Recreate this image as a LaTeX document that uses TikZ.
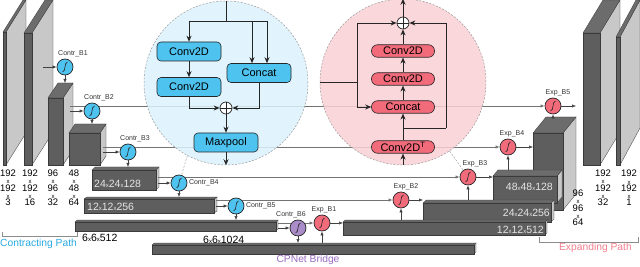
\documentclass[tikz,border=0pt]{standalone}
\usepackage{fontspec}
\setmainfont{Liberation Sans}
\usepackage{tikz}
\usetikzlibrary{positioning,arrows.meta}

\definecolor{slabfront}{HTML}{5E5E5E}
\definecolor{slabtop}{HTML}{6C6C6C}
\definecolor{slabside}{HTML}{C8C8C8}
\definecolor{slabedge}{HTML}{3A3A3A}
\definecolor{actblue}{HTML}{4EC3EF}
\definecolor{actred}{HTML}{F26B7B}
\definecolor{actpurple}{HTML}{A98CC8}
\definecolor{zoomblue}{HTML}{DCF1FB}
\definecolor{zoompink}{HTML}{F9D0D4}
\definecolor{pathblue}{HTML}{29A9E1}
\definecolor{pathpink}{HTML}{F27E8D}
\definecolor{bridgepurple}{HTML}{9A6CBF}

\pgfdeclarelayer{back}
\pgfdeclarelayer{wire}
\pgfsetlayers{back,wire,main}

\newcommand{\tinyx}{{\fontsize{6}{6}\selectfont x}}
% name, left, top, width, height, depth x, depth y
\newcommand{\cuboid}[7]{%
  \filldraw[sideface] (#2+#4,#3) -- ++(#6,-#7) -- ++(0,#5) -- ++(-#6,#7) -- cycle;
  \filldraw[topface] (#2,#3) -- ++(#6,-#7) -- ++(#4,0) -- ++(-#6,#7) -- cycle;
  \node[frontface, minimum width=#4, minimum height=#5, anchor=north west] (#1) at (#2,#3) {};
  \coordinate (#1b) at (#2+#6,#3-#7);
}

\begin{document}
\begin{tikzpicture}[
x=1pt, y=-1pt,
frontface/.style={fill=slabfront, draw=slabedge, line width=0.3pt, inner sep=0pt, outer sep=0pt},
sideface/.style={fill=slabside, draw=slabedge, line width=0.3pt},
topface/.style={fill=slabtop, draw=slabedge, line width=0.3pt},
act/.style={circle, draw=black!85, line width=0.7pt, minimum size=16, inner sep=0pt,
  path picture={\draw[line width=0.6pt] ([shift={(-2.5pt,-5pt)}]path picture bounding box.center)
    .. controls +(3.5pt,0pt) and +(-3.5pt,0pt) .. ([shift={(2.5pt,5pt)}]path picture bounding box.center);}},
actlbl/.style={font=\fontsize{7}{8}\selectfont, text=black!80, inner sep=0pt},
plus/.style={circle, draw=black!85, fill=white, line width=0.7pt, minimum size=12, inner sep=0pt,
  path picture={\draw[line width=0.7pt] (path picture bounding box.north) -- (path picture bounding box.south)
    (path picture bounding box.west) -- (path picture bounding box.east);}},
zoomcirc/.style={circle, draw=black!40, dash pattern=on 2pt off 1.5pt, line width=0.5pt, fill opacity=0.85, inner sep=0pt},
encbox/.style={draw=black!85, fill=actblue, rounded corners=4pt, line width=0.6pt, minimum width=64, minimum height=19, inner sep=0pt, font=\fontsize{11}{12}\selectfont},
decbox/.style={draw=black!85, fill=actred, rounded corners=6pt, line width=0.6pt, minimum width=63, minimum height=12.5, inner sep=0pt, font=\fontsize{11}{12}\selectfont},
blocktxt/.style={font=\fontsize{10.5}{11}\selectfont, text=black!10, inner sep=0pt},
dimtxt/.style={font=\fontsize{10.5}{11}\selectfont, inner sep=0pt},
dims/.style={font=\fontsize{9.5}{7.3}\selectfont, align=center, inner sep=0pt},
pathtxt/.style={font=\fontsize{10.3}{11}\selectfont, inner sep=0pt},
arr/.style={draw=black!75, line width=0.5pt, -{Latex[length=4pt,width=3.2pt]}},
skip/.style={draw=black!55, line width=0.6pt, -{Latex[length=4pt,width=3.2pt]}},
flow/.style={draw=black!85, line width=0.9pt, -{Stealth[length=6pt,width=5pt]}},
flowline/.style={draw=black!85, line width=0.9pt},
leader/.style={draw=black!45, dash pattern=on 2pt off 1.5pt, line width=0.4pt},
bracket/.style={draw=black!45, line width=0.5pt}
]
\useasboundingbox (0,0) rectangle (640,267);

% blocks
\begin{pgfonlayer}{back}
\cuboid{s1}{3}{32}{3}{133}{20}{32}
\cuboid{s2}{24}{33}{8}{132}{21}{33}
\cuboid{s3}{48}{98}{15}{67}{10}{15}
\cuboid{s4}{69}{133}{31}{32}{6}{9}
\cuboid{b24}{92}{170}{64}{20}{3}{3}
\cuboid{b12}{84}{199}{130}{14}{3}{2}
\cuboid{b6}{75}{222}{201}{9}{2}{2}
\cuboid{b10}{152}{245}{322}{9}{2}{2}
\cuboid{e96}{533}{133}{30}{77}{13}{16}
\cuboid{e48}{493}{176}{64}{27}{5}{6}
\cuboid{e24}{423}{203}{128}{19}{3}{3}
\cuboid{e12}{343}{222}{202}{13}{2}{2}
\cuboid{r1}{583}{33}{17}{132}{20}{33}
\cuboid{r2}{616}{37}{4}{128}{20}{37}
\end{pgfonlayer}

\node[blocktxt, anchor=west] (t24) at (94,184) {24\tinyx24\tinyx128};
\node[blocktxt, anchor=west] (t12) at (87,207) {12\tinyx12\tinyx256};
\node[blocktxt, anchor=east] (t48) at (553,187) {48\tinyx48\tinyx128};
\node[blocktxt, anchor=east] (t24e) at (550,213) {24\tinyx24\tinyx256};
\node[blocktxt, anchor=east] (t12e) at (544,230) {12\tinyx12\tinyx512};
\node[dimtxt, anchor=west] (t6) at (82,238) {6\tinyx6\tinyx512};
\node[dimtxt, anchor=west] (t6b) at (203,240) {6\tinyx6\tinyx1024};

% sizes
\node[dims] (l1) at (8,188) {192\\\tinyx\\192\\\tinyx\\3};
\node[dims] (l2) at (30,188) {192\\\tinyx\\192\\\tinyx\\16};
\node[dims] (l3) at (53,188) {96\\\tinyx\\96\\\tinyx\\32};
\node[dims] (l4) at (74,188) {48\\\tinyx\\48\\\tinyx\\64};
\node[dims] (l5) at (578,208) {96\\\tinyx\\96\\\tinyx\\64};
\node[dims] (l6) at (603,188) {192\\\tinyx\\192\\\tinyx\\32};
\node[dims] (l7) at (629,188) {192\\\tinyx\\192\\\tinyx\\1};

\node[pathtxt, text=pathblue, anchor=west] (cpath) at (0,244) {Contracting Path};
\node[pathtxt, text=pathpink, anchor=east] (epath) at (632,248) {Expanding Path};
\node[pathtxt, text=bridgepurple] (bridge) at (308,260) {CPNet Bridge};
\draw[bracket] (2,232) -- (2,236) -- (77,236) -- (77,232);
\draw[bracket] (539,237) -- (539,242) -- (638,242) -- (638,237);

% encoder block
\node[zoomcirc, fill=zoomblue, minimum size=164] (encview) at (226,83) {};
\node[encbox] (cv1) at (189,51.5) {Conv2D};
\node[encbox] (cv2) at (189,87) {Conv2D};
\node[encbox] (cat1) at (259,73) {Concat};
\node[plus] (sum1) at (226,108) {};
\node[encbox] (pool) at (226,142.5) {Maxpool};
\coordinate (split1) at (226,21);
\draw[flowline] (encview.north) -- (split1);
\draw[flowline] (cv1.north |- split1) -- ([xshift=8]cat1.north |- split1);
\draw[flow] (cv1.north |- split1) -- (cv1.north);
\draw[flow] ([xshift=-7]cat1.north |- split1) -- ([xshift=-7]cat1.north);
\draw[flow] ([xshift=8]cat1.north |- split1) -- ([xshift=8]cat1.north);
\draw[flow] (cv1) -- (cv2);
\draw[flow] (cv2.south) |- (sum1.west);
\draw[flow] (cat1.south) |- (sum1.east);
\draw[flow] (sum1) -- (pool);
\draw[flow] (pool) -- (pool |- encview.south);

% decoder block
\node[zoomcirc, fill=zoompink, minimum size=166] (decview) at (403,82) {};
\node[plus] (sum2) at (403,23) {};
\node[decbox] (dc1) at (403,51) {Conv2D};
\node[decbox] (dc2) at (403,79) {Conv2D};
\node[decbox] (cat2) at (403,107) {Concat};
\node[decbox] (upc) at (403,147) {Conv2D\textsuperscript{T}};
\coordinate (lsplit) at (357,82);
\coordinate (rsplit) at (446,128);
\draw[flow] (upc) -- (cat2);
\draw[flow] (cat2) -- (dc2);
\draw[flow] (dc2) -- (dc1);
\draw[flow] (dc1) -- (sum2);
\draw[flow] (sum2) -- (sum2 |- decview.north);
\draw[flow] (decview.south) -- (upc);
\draw[flowline] (decview.west) -- (lsplit);
\draw[flow] (lsplit) |- (sum2.west);
\draw[flow] (lsplit) |- (cat2.west);
\draw[flowline] (upc.north |- rsplit) -- (rsplit);
\draw[flow] (rsplit) |- (sum2.east);

% activations
\node[act, fill=actblue] (c1) at (65,67) {};
\node[act, fill=actblue] (c2) at (92,111) {};
\node[act, fill=actblue] (c3) at (128,152) {};
\node[act, fill=actblue] (c4) at (179,183) {};
\node[act, fill=actblue] (c5) at (236,206) {};
\node[act, fill=actpurple] (c6) at (298,228) {};
\node[act, fill=actred] (e1) at (322,223) {};
\node[act, fill=actred] (e2) at (401,200) {};
\node[act, fill=actred] (e3) at (468,177) {};
\node[act, fill=actred] (e4) at (508,147) {};
\node[act, fill=actred] (e5) at (553,106) {};
\node[actlbl, above=1.5pt of c1, xshift=8] {Contr\_B1};
\node[actlbl, above=1.5pt of c2, xshift=7] {Contr\_B2};
\node[actlbl, above=1.5pt of c3, xshift=7] {Contr\_B3};
\node[actlbl, right=1.5pt of c4] {Contr\_B4};
\node[actlbl, right=1.5pt of c5] {Contr\_B5};
\node[actlbl, above=1.5pt of c6, xshift=-7] {Contr\_B6};
\node[actlbl, above=1.5pt of e1, xshift=2] {Exp\_B1};
\node[actlbl, above=1.5pt of e2, xshift=5] {Exp\_B2};
\node[actlbl, above=1.5pt of e3, xshift=7] {Exp\_B3};
\node[actlbl, above=1.5pt of e4, xshift=4] {Exp\_B4};
\node[actlbl, above=1.5pt of e5, xshift=5] {Exp\_B5};

% skip connections
\coordinate (k2) at (70,106);
\coordinate (k3) at (103,147);
\coordinate (k4) at (158,177);
\coordinate (k5) at (216,200);
\coordinate (k6) at (278,223);
\begin{pgfonlayer}{wire}
\draw[skip] (k2) -- (e5);
\draw[skip] (k3) -- (e4);
\draw[skip] (k4) -- (e3);
\draw[skip] (k5) -- (e2);
\draw[skip] (k6) -- (e1);
\end{pgfonlayer}

% block inputs
\coordinate (i1) at (43,67);
\coordinate (i2) at (70,111);
\coordinate (i3) at (103,152);
\coordinate (i4) at (158,183);
\coordinate (i5) at (216,206);
\coordinate (i6) at (278,228);
\coordinate (o5) at (576,106);
\draw[arr] (i1) -- (c1);
\draw[arr] (i2) -- (c2);
\draw[arr] (i3) -- (c3);
\draw[arr] (i4) -- (c4);
\draw[arr] (i5) -- (c5);
\draw[arr] (i6) -- (c6);
\draw[arr] (c1) -- (c1 |- s3b);
\draw[arr] (c2) -- (c2 |- s4b);
\draw[arr] (c3) -- (c3 |- b24b);
\draw[arr] (c4) -- (c4 |- b12b);
\draw[arr] (c5) -- (c5 |- b6b);
\draw[arr] (c6) -- (c6 |- b10b);
\draw[arr] (e1 |- b10b) -- (e1);
\draw[arr] (e2 |- e12b) -- (e2);
\draw[arr] (e3 |- e24b) -- (e3);
\draw[arr] (e4 |- e48b) -- (e4);
\draw[arr] (e5 |- e96b) -- (e5);
\draw[arr] (e1) -- (e1 -| e12.west);
\draw[arr] (e2) -- (e2 -| e24.west);
\draw[arr] (e3) -- (e3 -| e48.west);
\draw[arr] (e4) -- (e4 -| e96.west);
\draw[arr] (e5) -- (o5);
\draw[leader] (encview.242) -- (c4);
\draw[leader] (decview.304) -- (e3);
\end{tikzpicture}
\end{document}
